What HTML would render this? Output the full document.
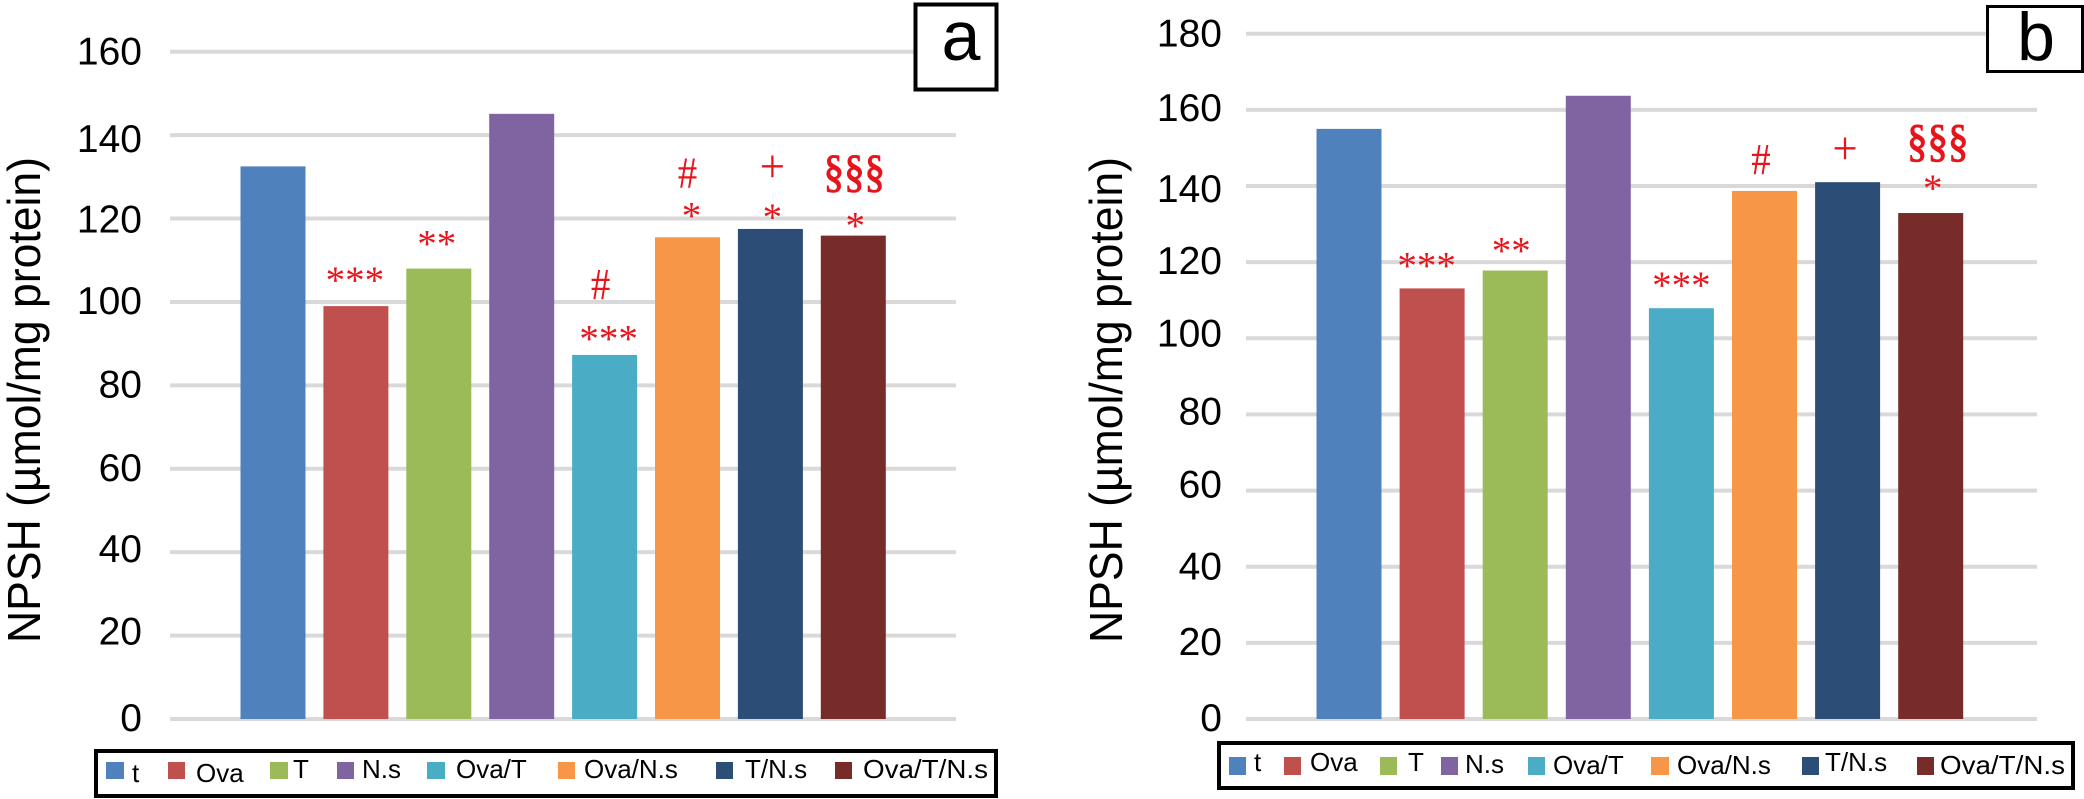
<!DOCTYPE html>
<html lang="en">
<head>
<meta charset="utf-8">
<title>NPSH bar charts</title>
<style>
html,body{margin:0;padding:0;background:#fff;width:2084px;height:799px;overflow:hidden}
svg{display:block}
text{font-family:"Liberation Sans",Arial,sans-serif;fill:#000}
.leg{font-size:26px}
.tick{font-size:39px;text-anchor:end}
.ann{font-family:"Liberation Serif","Times New Roman",serif;font-size:39px;fill:#e8141c;text-anchor:middle}
</style>
</head>
<body>
<svg id="fig" xmlns="http://www.w3.org/2000/svg" width="2084" height="799" viewBox="0 0 2084 799">
  <rect width="2084" height="799" fill="#fff"/>
  <g id="panel-a">
    <g id="grid-a"></g>
    <g id="bars-a"></g>
    <g id="ticks-a"></g>
    <g id="ann-a"></g>
    <text transform="translate(40,643) rotate(-90)" font-size="46" textLength="486" lengthAdjust="spacingAndGlyphs">NPSH (µmol/mg protein)</text>
    <g>
      <rect x="915.5" y="4.5" width="81" height="85" fill="#fff" stroke="#000" stroke-width="4"/>
      <text x="961" y="60" font-size="70" text-anchor="middle">a</text>
    </g>
    <g>
      <rect x="96" y="751" width="900" height="45" fill="#fff" stroke="#000" stroke-width="4"/>
      <g><rect x="106" y="762" width="18" height="17" fill="#4f81bd"/><text class="leg" x="132" y="782">t</text></g>
      <g><rect x="168" y="762" width="17" height="17" fill="#c0504d"/><text class="leg" x="196" y="782">Ova</text></g>
      <g><rect x="270" y="762" width="18" height="17" fill="#9bbb59"/><text class="leg" x="293" y="778">T</text></g>
      <g><rect x="337" y="762" width="17" height="17" fill="#8064a2"/><text class="leg" x="362" y="778">N.s</text></g>
      <g><rect x="427" y="762" width="18" height="17" fill="#4bacc6"/><text class="leg" x="456" y="778">Ova/T</text></g>
      <g><rect x="558" y="762" width="17" height="17" fill="#f79646"/><text class="leg" x="584" y="778">Ova/N.s</text></g>
      <g><rect x="716" y="762" width="17" height="17" fill="#2c4d75"/><text class="leg" x="745" y="778">T/N.s</text></g>
      <g><rect x="835" y="762" width="17" height="17" fill="#772c2a"/><text class="leg" x="863" y="778" textLength="125" lengthAdjust="spacingAndGlyphs">Ova/T/N.s</text></g>
    </g>
  </g>
  <g id="panel-b">
    <g id="grid-b"></g>
    <g id="bars-b"></g>
    <g id="ticks-b"></g>
    <g id="ann-b"></g>
    <text transform="translate(1122,643) rotate(-90)" font-size="46" textLength="486" lengthAdjust="spacingAndGlyphs">NPSH (µmol/mg protein)</text>
    <g>
      <rect x="1987.5" y="6.5" width="95" height="65" fill="#fff" stroke="#000" stroke-width="3"/>
      <text x="2036" y="60" font-size="68" text-anchor="middle">b</text>
    </g>
    <g>
      <rect x="1219" y="743" width="854" height="45" fill="#fff" stroke="#000" stroke-width="4"/>
      <g><rect x="1229" y="757" width="17" height="18" fill="#4f81bd"/><text class="leg" x="1254" y="771">t</text></g>
      <g><rect x="1284" y="757" width="17" height="18" fill="#c0504d"/><text class="leg" x="1310" y="771">Ova</text></g>
      <g><rect x="1380" y="757" width="17" height="18" fill="#9bbb59"/><text class="leg" x="1408" y="771">T</text></g>
      <g><rect x="1441" y="757" width="17" height="18" fill="#8064a2"/><text class="leg" x="1465" y="773">N.s</text></g>
      <g><rect x="1528" y="757" width="17" height="18" fill="#4bacc6"/><text class="leg" x="1553" y="774">Ova/T</text></g>
      <g><rect x="1651" y="757" width="18" height="18" fill="#f79646"/><text class="leg" x="1677" y="774">Ova/N.s</text></g>
      <g><rect x="1802" y="757" width="17" height="18" fill="#2c4d75"/><text class="leg" x="1825" y="771">T/N.s</text></g>
      <g><rect x="1917" y="757" width="17" height="18" fill="#772c2a"/><text class="leg" x="1940" y="774" textLength="125" lengthAdjust="spacingAndGlyphs">Ova/T/N.s</text></g>
    </g>
  </g>
</svg>
<script>
var categories = ["t", "Ova", "T", "N.s", "Ova/T", "Ova/N.s", "T/N.s", "Ova/T/N.s"];
var valuesA = [132.5, 99, 108, 145.1, 87.3, 115.5, 117.5, 115.9];
var valuesB = [155, 113.1, 117.8, 163.7, 107.9, 138.7, 141, 132.9];
var tickLabelsA = [0, 20, 40, 60, 80, 100, 120, 140, 160];
var tickLabelsB = [0, 20, 40, 60, 80, 100, 120, 140, 160, 180];
var barColors = ["#4f81bd", "#c0504d", "#9bbb59", "#8064a2", "#4bacc6", "#f79646", "#2c4d75", "#772c2a"];

var SVGNS = "http://www.w3.org/2000/svg";

function yA(v) { return 719 - v * (667.3 / 160); }
function yB(v) { return 719 - v * (685.3 / 180); }
function xA(i) { return 273 + i * 82.9; }
function xB(i) { return 1349 + i * 83.1; }

/* the source figure's tick labels sit a few pixels off their gridlines */
function labelShiftA(t) {
  if (t === 140) { return 5; }
  if (t === 120) { return 2; }
  if (t === 160) { return 1; }
  if (t === 40) { return -2; }
  if (t === 20) { return -3; }
  return 0;
}
function labelShiftB(t) {
  if (t === 180) { return 1; }
  if (t === 160) { return -1; }
  if (t === 140) { return 4; }
  if (t === 100) { return -4; }
  if (t === 80) { return -2; }
  if (t === 60) { return -5; }
  if (t === 40) { return 1; }
  return 0;
}

function shape(parent, tag, props) {
  var el = document.createElementNS(SVGNS, tag);
  for (var k in props) { el.setAttribute(k, props[k]); }
  parent.appendChild(el);
  return el;
}

function drawPanel(p, values, ticks, xFn, yFn, gridX1, gridX2, tickX, shiftFn) {
  var grid = document.getElementById("grid-" + p);
  var bars = document.getElementById("bars-" + p);
  var tickG = document.getElementById("ticks-" + p);
  ticks.forEach(function (t) {
    var line = shape(grid, "line", { x1: gridX1, x2: gridX2, y1: yFn(t), y2: yFn(t), stroke: "#d9d9d9", "stroke-width": 4 });
    
    
    var label = shape(tickG, "text", { x: tickX, y: yFn(t) + 12 + shiftFn(t), "class": "tick" });
    label.textContent = String(t);
    
    
  });
  values.forEach(function (v, i) {
    var bar = shape(bars, "rect", { x: xFn(i) - 32.5, y: yFn(v), width: 65, height: yFn(0) - yFn(v), fill: barColors[i] });
    
    
  });
}

function annotate(p, values, xFn, yFn, i, txt, dx, lift) {
  var g = document.getElementById("ann-" + p);
  var x = xFn(i) + dx;
  var y = yFn(values[i]) - lift;
  var sx = 1, sy = 1, stroke = 0;
  if (txt === "#") { sy = 1.15; }
  if (txt === "+") { sx = 1.15; sy = 1.2; }
  if (txt.charAt(0) === "§") { sx = 1.05; sy = 1.18; stroke = 0.9; }
  var t = shape(g, "text", { "class": "ann", transform: "translate(" + x + "," + y + ") scale(" + sx + "," + sy + ")" });
  if (stroke) {
    t.setAttribute("stroke", "#e8141c");
    t.setAttribute("stroke-width", stroke);
  }
  t.textContent = txt;
  
  
}

drawPanel("a", valuesA, tickLabelsA, xA, yA, 170, 956, 142, labelShiftA);
drawPanel("b", valuesB, tickLabelsB, xB, yB, 1246, 2037, 1222, labelShiftB);

function markA(i, txt, dx, lift) { annotate("a", valuesA, xA, yA, i, txt, dx, lift); }
function markB(i, txt, dx, lift) { annotate("b", valuesB, xB, yB, i, txt, dx, lift); }

markA(1, "***", -1, 13);
markA(2, "**", -2, 12);
markA(4, "#", -4, 56);
markA(4, "***", 4, 3.5);
markA(5, "#", 0, 50);
markA(5, "*", 4, 9);
markA(6, "+", 2, 47);
markA(6, "*", 2, -1);
markA(7, "§§§", 1, 49);
markA(7, "*", 2, -3);

markB(1, "***", -5.5, 10);
markB(2, "**", -4, 7);
markB(4, "***", 0, 10);
markB(5, "#", -3.5, 17);
markB(6, "+", -2.6, 18);
markB(7, "§§§", 7, 57);
markB(7, "*", 2, 12);
</script>
</body>
</html>
